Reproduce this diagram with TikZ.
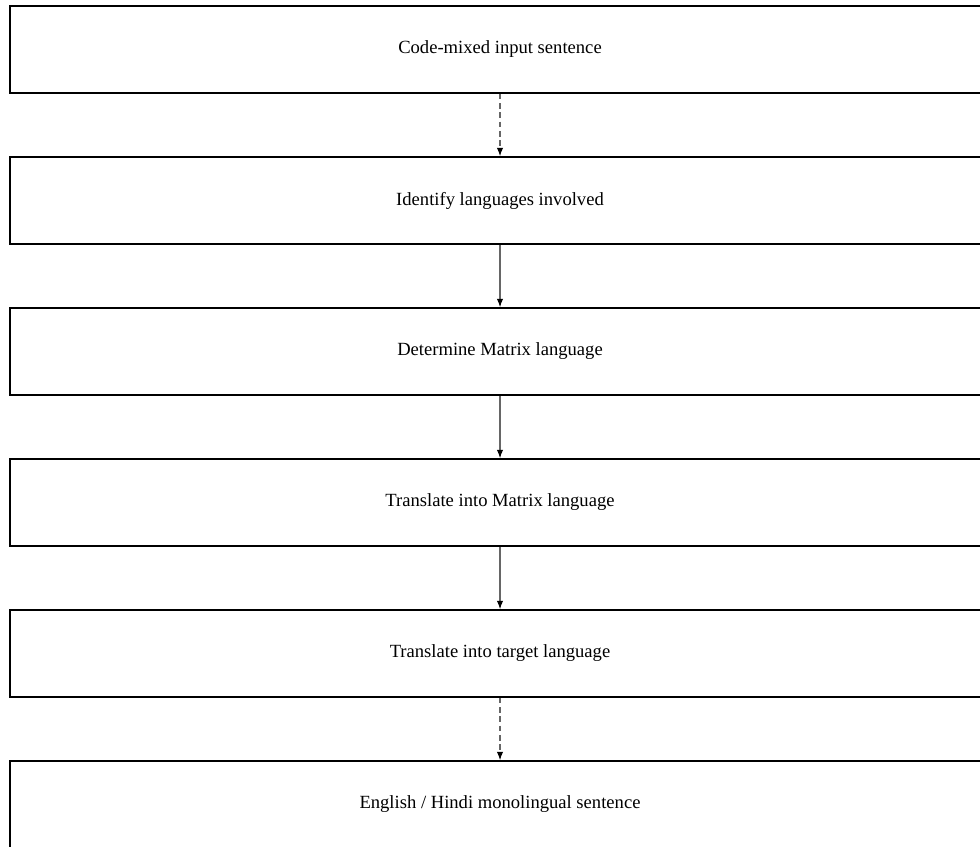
\documentclass[tikz,border=0pt]{standalone}
\usepackage{fontspec}
\setmainfont{Liberation Serif}
\usetikzlibrary{arrows.meta}
\begin{document}
\begin{tikzpicture}[x=0.5378pt,y=-0.5378pt,
  stepbox/.style={draw, line width=0.8pt, minimum width=527pt, minimum height=46.8pt,
    inner sep=0pt, font=\fontsize{10pt}{12pt}\selectfont},
  flow/.style={-{Latex[length=4.5pt,width=3.4pt,black]}, draw=black!60, line width=0.6pt},
  flowdash/.style={flow, dash pattern=on 3pt off 2pt}]
\useasboundingbox (0,0) rectangle (980,846);
\node[stepbox] (s1) at (500,49.5)  {Code-mixed input sentence};
\node[stepbox] (s2) at (500,200.5) {Identify languages involved};
\node[stepbox] (s3) at (500,351.5) {Determine Matrix language};
\node[stepbox] (s4) at (500,502.5) {Translate into Matrix language};
\node[stepbox] (s5) at (500,653.5) {Translate into target language};
\node[stepbox] (s6) at (500,804.5) {English / Hindi monolingual sentence};
\draw[flowdash] (s1) -- (s2);
\draw[flow] (s2) -- (s3);
\draw[flow] (s3) -- (s4);
\draw[flow] (s4) -- (s5);
\draw[flowdash] (s5) -- (s6);
\end{tikzpicture}
\end{document}
